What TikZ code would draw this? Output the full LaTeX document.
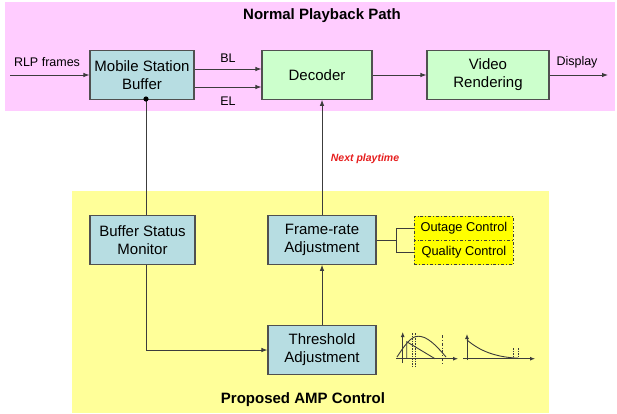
\documentclass[tikz,border=0pt]{standalone}
\usepackage{fontspec}
\setmainfont{Liberation Sans}
\usetikzlibrary{arrows.meta}
\definecolor{pinkbg}{RGB}{255,204,255}
\definecolor{yellowbg}{RGB}{255,255,153}
\definecolor{bluefill}{RGB}{183,221,226}
\definecolor{greenfill}{RGB}{204,255,204}
\definecolor{ctrlfill}{RGB}{255,255,0}
\definecolor{edge}{RGB}{80,80,80}
\definecolor{linecol}{RGB}{60,60,60}
\definecolor{notered}{RGB}{230,30,30}
\tikzset{
  boxbase/.style={draw=edge, line width=1.1pt, inner sep=0pt, align=center,
    minimum height=48.5pt, font=\fontsize{15}{18}\selectfont},
  bluebox/.style={boxbase, fill=bluefill},
  greenbox/.style={boxbase, fill=greenfill},
  ctrlbox/.style={draw=linecol, line width=0.9pt, dash dot, fill=ctrlfill,
    inner sep=0pt, minimum width=99pt, minimum height=24.3pt,
    font=\fontsize{12.8}{15}\selectfont},
  conn/.style={draw=linecol, line width=0.9pt},
  arr/.style={conn, -{Latex[length=6pt,width=4.5pt]}},
  smalllabel/.style={font=\fontsize{12.5}{15}\selectfont},
  paneltitle/.style={font=\fontsize{15}{18}\selectfont\bfseries},
  plotline/.style={draw=linecol, line width=0.9pt},
  plotarr/.style={plotline, -{Latex[length=5pt,width=4pt]}},
  guide/.style={draw=linecol, line width=0.6pt, dash pattern=on 1.5pt off 1pt},
}
\begin{document}
\begin{tikzpicture}[x=1pt,y=-1pt]
\useasboundingbox (0,0) rectangle (617,413);
% background panels
\fill[pinkbg] (5,2) rectangle (615,111);
\fill[yellowbg] (72,191) rectangle (549,413);
\node[paneltitle] (ttop) at (322,16) {Normal Playback Path};
\node[paneltitle] (tbot) at (303,400) {Proposed AMP Control};

% playback path
\node[bluebox, minimum width=104pt] (msb) at (142,75) {Mobile Station\\Buffer};
\node[greenbox, minimum width=110pt] (dec) at (317,75) {Decoder};
\node[greenbox, minimum width=122pt] (vr) at (488,75) {Video\\Rendering};

% control blocks
\node[bluebox, minimum width=105pt] (bsm) at (142.5,240) {Buffer Status\\Monitor};
\node[bluebox, minimum width=108pt] (fr) at (322,240) {Frame-rate\\Adjustment};
\node[bluebox, minimum width=108pt] (th) at (322,350) {Threshold\\Adjustment};
\node[ctrlbox, anchor=north west] (oc) at (414,215.5) {Outage Control};
\node[ctrlbox, anchor=north west] (qc) at (414,239.8) {Quality Control};

% input / output
\coordinate (rlpin) at (10,75);
\coordinate (dispout) at (608,75);
\draw[arr] (rlpin) -- (msb.west);
\node[smalllabel] (rlpl) at (47,62.5) {RLP frames};
\draw[arr] (vr.east) -- (dispout);
\node[smalllabel] (displ) at (577,62.5) {Display};

% base and enhancement layers
\draw[arr] (msb.east |- 0,69) -- (dec.west |- 0,69);
\draw[arr] (msb.east |- 0,87) -- (dec.west |- 0,87);
\node[smalllabel] (bll) at (228,58) {BL};
\node[smalllabel] (ell) at (228,101) {EL};
\draw[arr] (dec.east) -- (vr.west);

% buffer monitoring
\coordinate (tap) at (146,99);
\draw[conn] (tap) -- (tap |- bsm.north);
\fill[black] (tap) circle (2.6pt);
\coordinate (bend) at (146,350);
\draw[conn] (bend |- bsm.south) -- (bend);
\draw[arr] (bend) -- (th.west);
\draw[arr] (th.north) -- (fr.south);
\draw[arr] (fr.north) -- (fr.north |- dec.south);
\node[font=\fontsize{10.5}{12}\selectfont\bfseries\itshape, text=notered] (npl) at (365,159) {Next playtime};

% control options
\coordinate (fork) at (396,240);
\draw[conn] (fr.east) -- (fork);
\draw[conn] (fork |- oc.west) -- (fork |- qc.west);
\draw[conn] (fork |- oc.west) -- (oc.west);
\draw[conn] (fork |- qc.west) -- (qc.west);

% threshold sketches
\draw[plotarr] (396,358.7) -- (458,358.7);
\draw[plotarr] (402.7,363) -- (402.7,332);
\draw[plotline] (397,357) .. controls (408,340) and (413,335) .. (421,336.5)
  .. controls (430,338) and (440,350) .. (446,357);
\draw[plotline] (406.7,358.7) -- (406.7,341.7) -- (435,358.7);
\draw[guide] (412,333) -- (412,366);
\draw[guide] (414.8,333) -- (414.8,366);
\draw[draw=linecol, line width=0.6pt, dash dot] (442,335) -- (442,365);

\draw[plotarr] (463,358.7) -- (535,358.7);
\draw[plotarr] (467,360) -- (467,334);
\draw[plotline] (467,340) .. controls (480,351) and (495,357) .. (518,358.2);
\draw[guide] (513,348) -- (513,358);
\draw[guide] (518,348) -- (518,358);
\end{tikzpicture}
\end{document}
